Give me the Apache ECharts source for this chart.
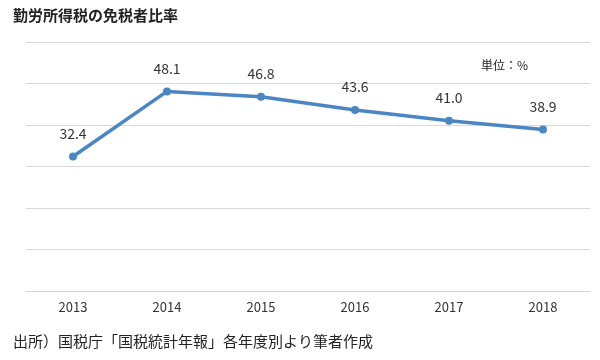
<!DOCTYPE html>
<html><head><meta charset="utf-8">
<script src="https://cdn.jsdelivr.net/npm/echarts@6/dist/echarts.min.js"></script>
<style>html,body{margin:0;padding:0;background:#fff}#c{width:600px;height:360px}</style>
</head><body><div id="c"></div>
<script>
const years = ['2013','2014','2015','2016','2017','2018'];
const exemptRatio = [32.4, 48.1, 46.8, 43.6, 41.0, 38.9];
const titleText = '勤労所得税の免税者比率';
const unitText = '単位：%';
const sourceText = '出所）国税庁「国税統計年報」各年度別より筆者作成';

const font = '"Noto Sans CJK JP", "Noto Sans", sans-serif';
const chart = echarts.init(document.getElementById('c'), null, {renderer:'canvas'});
chart.setOption({
  animation:false,
  backgroundColor:'#fff',
  textStyle:{fontFamily:font},
  title:[
    {text:titleText, left:8, top:3, textStyle:{fontSize:15, fontWeight:'bold', color:'#222', fontFamily:font}},
    {text:unitText, left:476, top:54, textStyle:{fontSize:12, fontWeight:'normal', color:'#222', fontFamily:font}},
    {text:sourceText, left:8, top:329, textStyle:{fontSize:15, fontWeight:'normal', color:'#222', fontFamily:font}}
  ],
  grid:{left:26, right:10, top:42, bottom:69},
  xAxis:{type:'category', data:years, boundaryGap:true,
    axisLine:{lineStyle:{color:'#d4d4d4', width:1}}, axisTick:{show:false},
    axisLabel:{color:'#333', fontSize:13, margin:10, fontFamily:font}},
  yAxis:{type:'value', min:0, max:60, interval:10,
    axisLabel:{show:false}, axisLine:{show:false}, axisTick:{show:false},
    splitLine:{lineStyle:{color:'#d9d9d9', width:1}}},
  series:[{type:'line', data:exemptRatio, symbol:'circle', symbolSize:8,
    itemStyle:{color:'#4a86c2'}, lineStyle:{color:'#4a86c2', width:3.5},
    label:{show:true, position:'top', distance:12, color:'#333', fontSize:14, fontFamily:font,
      formatter:p=>p.value.toFixed(1)}}]
});
</script></body></html>
